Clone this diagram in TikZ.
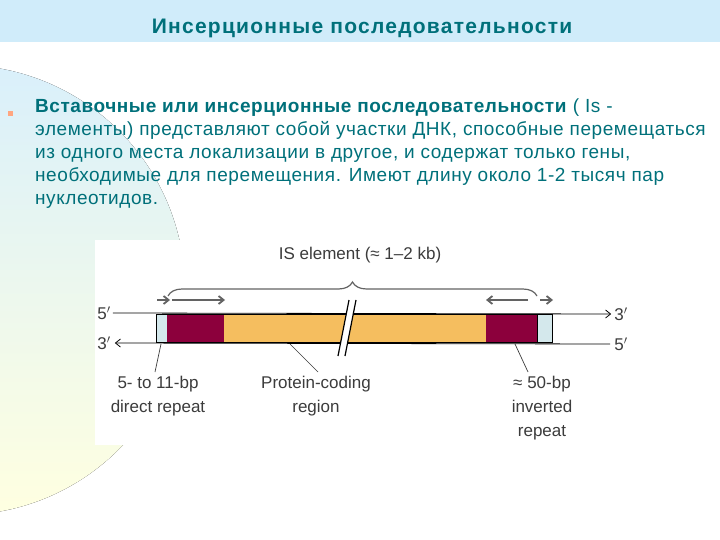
\documentclass[tikz,border=0pt]{standalone}
\usepackage{fontspec}
\setmainfont{Liberation Sans}
\usetikzlibrary{decorations.pathreplacing,arrows.meta}
\definecolor{teal1}{RGB}{0,112,122}
\definecolor{bandblue}{RGB}{208,236,250}
\definecolor{lightblue}{RGB}{212,232,236}
\definecolor{maroon1}{RGB}{140,0,60}
\definecolor{orange1}{RGB}{245,190,95}
\definecolor{dgray}{RGB}{60,60,60}
\tikzset{
  txt/.style={text=teal1,font=\fontsize{19}{23}\selectfont\addfontfeature{LetterSpace=3},align=left,anchor=north west,inner sep=0pt},
  lbl/.style={text=dgray,font=\fontsize{17}{24}\selectfont,align=center,inner sep=0pt},
  strand/.style={black,line width=0.8pt},
  garrow/.style={dgray!80,line width=1.8pt,-{Straight Barb[length=5pt,width=8pt]}},
  leader/.style={dgray,line width=0.7pt}
}
\begin{document}
\begin{tikzpicture}[x=1pt,y=-1pt]
\useasboundingbox (0,0) rectangle (720,540);
\begin{scope}
\clip (0,0) rectangle (720,540);
\fill[top color=bandblue!80,bottom color=yellow!12] (-40,290) circle (225);
\fill[white] (0,42) rectangle (720,62);
\fill[white] (95,240) rectangle (630,445);
\fill[bandblue] (0,0) rectangle (720,42);
\end{scope}
\node[text=teal1,font=\bfseries\fontsize{21}{24}\selectfont\addfontfeature{LetterSpace=6}] (title) at (362,28) {Инсерционные последовательности};
\fill[orange!60!red!50] (8,111) rectangle (13,116);
\node[txt] (body) at (35,99) {\textbf{Вставочные или инсерционные последовательности} ( Is -\\элементы) представляют собой участки ДНК, способные перемещаться\\из одного места локализации в другое, и содержат только гены,\\необходимые для перемещения. Имеют длину около 1-2 тысяч пар\\нуклеотидов.};
% strands
\node[lbl] (t5) at (104,313) {5$'$};
\node[lbl] (t3) at (621,314) {3$'$};
\node[lbl] (b3) at (104,343) {3$'$};
\node[lbl] (b5) at (621,344) {5$'$};
\draw[strand,-{Straight Barb[length=5pt,width=8pt]}] (t5.east) ++(2,0) -- ([xshift=-3pt]t3.west);
\draw[strand,-{Straight Barb[length=5pt,width=8pt]}] ([xshift=-4pt]b5.west) -- ([xshift=4pt]b3.east);
% segments
\filldraw[fill=lightblue,draw=black,line width=0.6pt] (156,314) rectangle (167,342);
\fill[maroon1] (167,314) rectangle (224,342);
\fill[orange1] (224,314) rectangle (486,342);
\fill[maroon1] (486,314) rectangle (537,342);
\filldraw[fill=lightblue,draw=black,line width=0.6pt] (537,314) rectangle (552,342);
\draw[strand] (156,314) -- (552,314) (156,342) -- (552,342);
% break
\fill[white] (349,300) -- (356,300) -- (345,356) -- (338,356) -- cycle;
\draw[black,line width=1.2pt] (349,300) -- (338,356) (356,300) -- (345,356);
% small arrows
\draw[garrow] (157,300) -- (170,300);
\draw[garrow] (172,300) -- (225,300);
\draw[garrow] (528,300) -- (486,300);
\draw[garrow] (540,300) -- (553,300);
% brace
\draw[dgray!80,line width=1.2pt,decorate,decoration={brace,amplitude=14pt}] (168,296) -- (537,296);
\node[lbl] (is) at (360,255) {IS element (≈ 1–2 kb)};
% labels
\node[lbl] (l1) at (158,396) {5- to 11-bp\\direct repeat};
\node[lbl] (l2) at (316,396) {Protein-coding\\region};
\node[lbl] (l3) at (542,408) {≈ 50-bp\\inverted\\repeat};
\draw[leader] (161,344) -- (155,372);
\draw[leader] (290,344) -- (318,372);
\draw[leader] (515,344) -- (528,372);
\end{tikzpicture}
\end{document}
